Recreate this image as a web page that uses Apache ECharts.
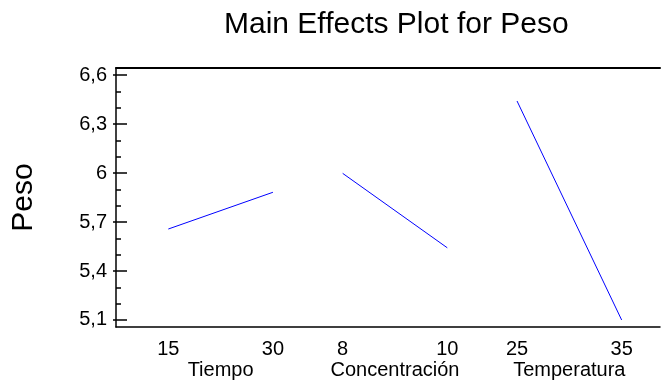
<!DOCTYPE html>
<html>
<head>
<meta charset="utf-8">
<script src="https://cdn.jsdelivr.net/npm/echarts@6/dist/echarts.min.js"></script>
<style>
  html, body { margin: 0; padding: 0; background: #fff; }
  #chart { width: 661px; height: 381px; }
</style>
</head>
<body>
<div id="chart"></div>
<script>
// factors and their two levels
const factors = ['Tiempo', 'Concentración', 'Temperatura']
const levels = [['15', '30'], ['8', '10'], ['25', '35']]
// mean Peso at low / high level of each factor
const tiempoMeans = [5.657, 5.882]
const concMeans = [5.998, 5.542]
const tempMeans = [6.441, 5.100]
const yTicks = [5.1, 5.4, 5.7, 6.0, 6.3, 6.6]
const yMinorTicks = [5.2, 5.3, 5.5, 5.6, 5.8, 5.9, 6.1, 6.2, 6.4, 6.5]

const means = [tiempoMeans, concMeans, tempMeans]
const font = 'Liberation Sans'

// each factor panel is 5 units wide, levels sit 3 units apart
const levelPos = []
const levelText = {}
const midPos = []
const midText = {}
factors.forEach((f, i) => {
  const lo = 1.5 + 5 * i
  const hi = 4.5 + 5 * i
  levelPos.push(lo, hi)
  levelText[lo] = levels[i][0]
  levelText[hi] = levels[i][1]
  midPos.push(3 + 5 * i)
  midText[3 + 5 * i] = f
})

const fmtY = v => String(+Number(v).toFixed(1)).replace('.', ',')

const chart = echarts.init(document.getElementById('chart'))
chart.setOption({
  animation: false,
  title: {
    text: 'Main Effects Plot for Peso',
    left: 219,
    top: 5,
    textStyle: { fontFamily: font, fontSize: 30, fontWeight: 'normal', color: '#000' }
  },
  grid: { left: 116, right: 1, top: 68, bottom: 54 },
  xAxis: [{
    type: 'value',
    min: 0,
    max: 15.6,
    position: 'bottom',
    splitLine: { show: false },
    axisLine: { show: true, lineStyle: { color: '#000', width: 1.5 } },
    axisTick: { show: false },
    axisLabel: {
      customValues: levelPos,
      formatter: v => levelText[v] || '',
      margin: 12,
      fontFamily: font,
      fontSize: 20,
      color: '#000'
    }
  }, {
    type: 'value',
    min: 0,
    max: 15.6,
    position: 'bottom',
    splitLine: { show: false },
    axisLine: { show: false },
    axisTick: { show: false },
    axisLabel: {
      customValues: midPos,
      formatter: v => midText[v] || '',
      margin: 33,
      fontFamily: font,
      fontSize: 20,
      color: '#000'
    }
  }, {
    type: 'value',
    min: 0,
    max: 15.6,
    position: 'top',
    splitLine: { show: false },
    axisLine: { show: true, lineStyle: { color: '#000', width: 2 } },
    axisTick: { show: false },
    axisLabel: { show: false }
  }],
  yAxis: [{
    type: 'value',
    min: 5.057,
    max: 6.643,
    position: 'left',
    name: 'Peso',
    nameLocation: 'middle',
    nameRotate: 90,
    nameGap: 77,
    nameTextStyle: { fontFamily: font, fontSize: 30, color: '#000' },
    splitLine: { show: false },
    axisLine: { show: true, lineStyle: { color: '#000', width: 1.5 } },
    axisTick: { show: true, inside: true, length: 11, customValues: yTicks, lineStyle: { color: '#000', width: 1.5 } },
    axisLabel: {
      customValues: yTicks,
      formatter: fmtY,
      margin: 9,
      fontFamily: font,
      fontSize: 20,
      color: '#000'
    }
  }, {
    type: 'value',
    min: 5.057,
    max: 6.643,
    position: 'left',
    splitLine: { show: false },
    axisLine: { show: false },
    axisTick: { show: true, inside: true, length: 5, customValues: yMinorTicks, lineStyle: { color: '#000', width: 1.5 } },
    axisLabel: { show: false }
  }, {
    type: 'value',
    min: 5.057,
    max: 6.643,
    position: 'right',
    splitLine: { show: false },
    axisLine: { show: false },
    axisTick: { show: true, inside: true, length: 3, customValues: yTicks, lineStyle: { color: '#000', width: 1.5 } },
    axisLabel: { show: false }
  }],
  series: factors.map((f, i) => ({
    name: f,
    type: 'line',
    xAxisIndex: 0,
    yAxisIndex: 0,
    symbol: 'none',
    lineStyle: { color: '#0000ff', width: 1 },
    data: [
      [levelPos[2 * i], means[i][0]],
      [levelPos[2 * i + 1], means[i][1]]
    ]
  }))
})
</script>
</body>
</html>
